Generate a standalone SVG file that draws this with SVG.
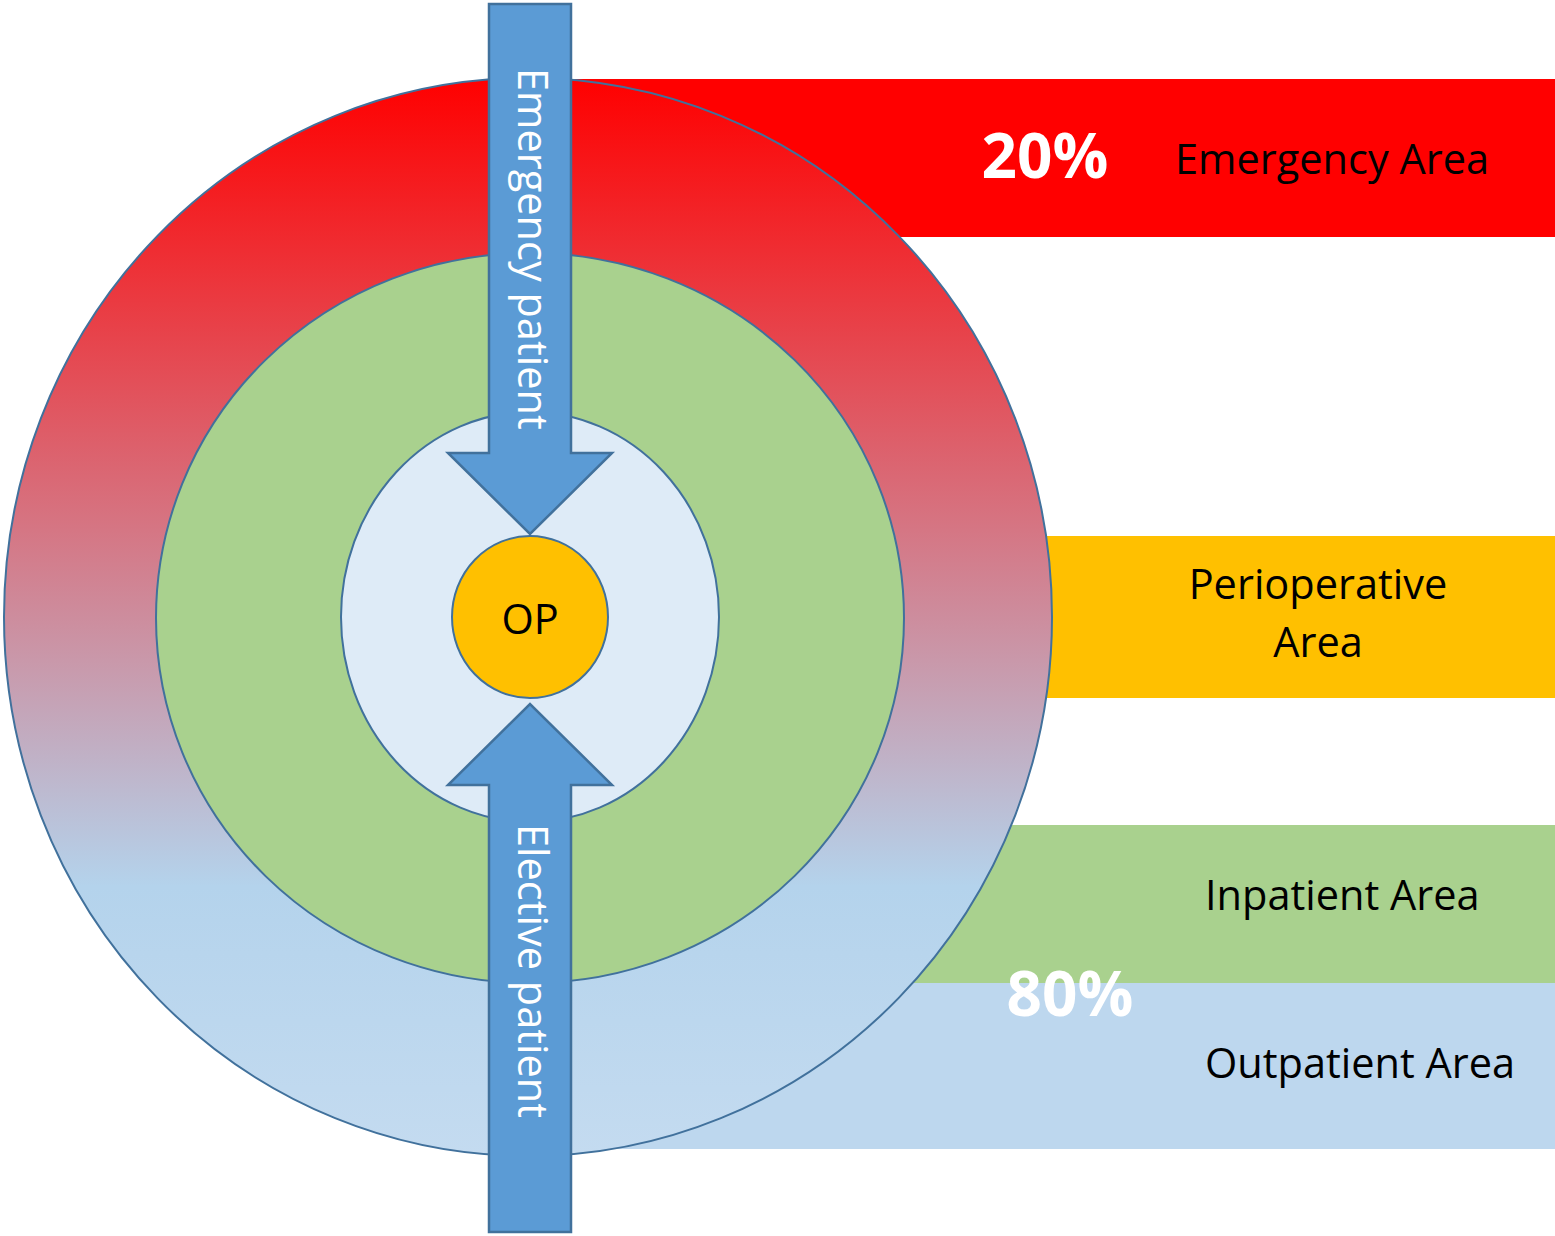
<svg xmlns="http://www.w3.org/2000/svg" width="1555" height="1236" viewBox="0 0 1555 1236">
<defs>
<linearGradient id="outerGrad" x1="0" y1="0" x2="0" y2="1">
<stop offset="0" stop-color="#FF0000"/>
<stop offset="0.75" stop-color="#B4D3EC"/>
<stop offset="1" stop-color="#C4DBF0"/>
</linearGradient>
<style>
.ring{stroke:#41719C;stroke-width:2}
.arrow{fill:#5B9BD5;stroke:#41719C;stroke-width:2.5}
.lbl{font-family:"Open Sans","Noto Sans",sans-serif;font-size:41.5px;fill:#000}
.pct{font-family:"Open Sans","Noto Sans",sans-serif;font-size:62px;font-weight:bold;fill:#fff}
.vt{font-family:"Open Sans","Noto Sans",sans-serif;font-size:41.5px;fill:#fff}
</style>
</defs>
<g id="bands">
<rect x="530" y="79" width="1025" height="158" fill="#FF0000"/>
<rect x="1000" y="536" width="555" height="162" fill="#FFC000"/>
<rect x="800" y="825" width="755" height="158" fill="#A9D18E"/>
<rect x="575" y="983" width="980" height="166" fill="#BDD7EE"/>
</g>
<g id="outer-ring">
<ellipse class="ring" cx="528" cy="617" rx="524" ry="539" fill="url(#outerGrad)"/>
</g>
<g id="inpatient-ring">
<ellipse class="ring" cx="530" cy="618" rx="374" ry="365" fill="#A9D18E"/>
</g>
<g id="perioperative-ring">
<ellipse class="ring" cx="530" cy="617" rx="189" ry="205" fill="#DEEBF7"/>
</g>
<g id="op">
<ellipse class="ring" cx="530" cy="617" rx="78" ry="81" fill="#FFC000"/>
<text class="lbl" x="530" y="634" text-anchor="middle">OP</text>
</g>
<g id="connectors">
<g id="emergency-arrow">
<polygon class="arrow" points="489,4 571,4 571,453 612,453 530,534 448,453 489,453"/>
<text class="vt" transform="translate(518,68) rotate(90)">Emergency patient</text>
</g>
<g id="elective-arrow">
<polygon class="arrow" points="489,1232 571,1232 571,785 612,785 530,704 448,785 489,785"/>
<text class="vt" transform="translate(518,824) rotate(90)">Elective patient</text>
</g>
</g>
<g id="labels">
<text class="pct" x="1045" y="178" text-anchor="middle">20%</text>
<text class="lbl" x="1175" y="174">Emergency Area</text>
<text class="lbl" x="1318" y="599" text-anchor="middle">Perioperative</text>
<text class="lbl" x="1318" y="657" text-anchor="middle">Area</text>
<text class="lbl" x="1205" y="910">Inpatient Area</text>
<text class="pct" x="1070" y="1016" text-anchor="middle">80%</text>
<text class="lbl" x="1205" y="1078">Outpatient Area</text>
</g>
</svg>
